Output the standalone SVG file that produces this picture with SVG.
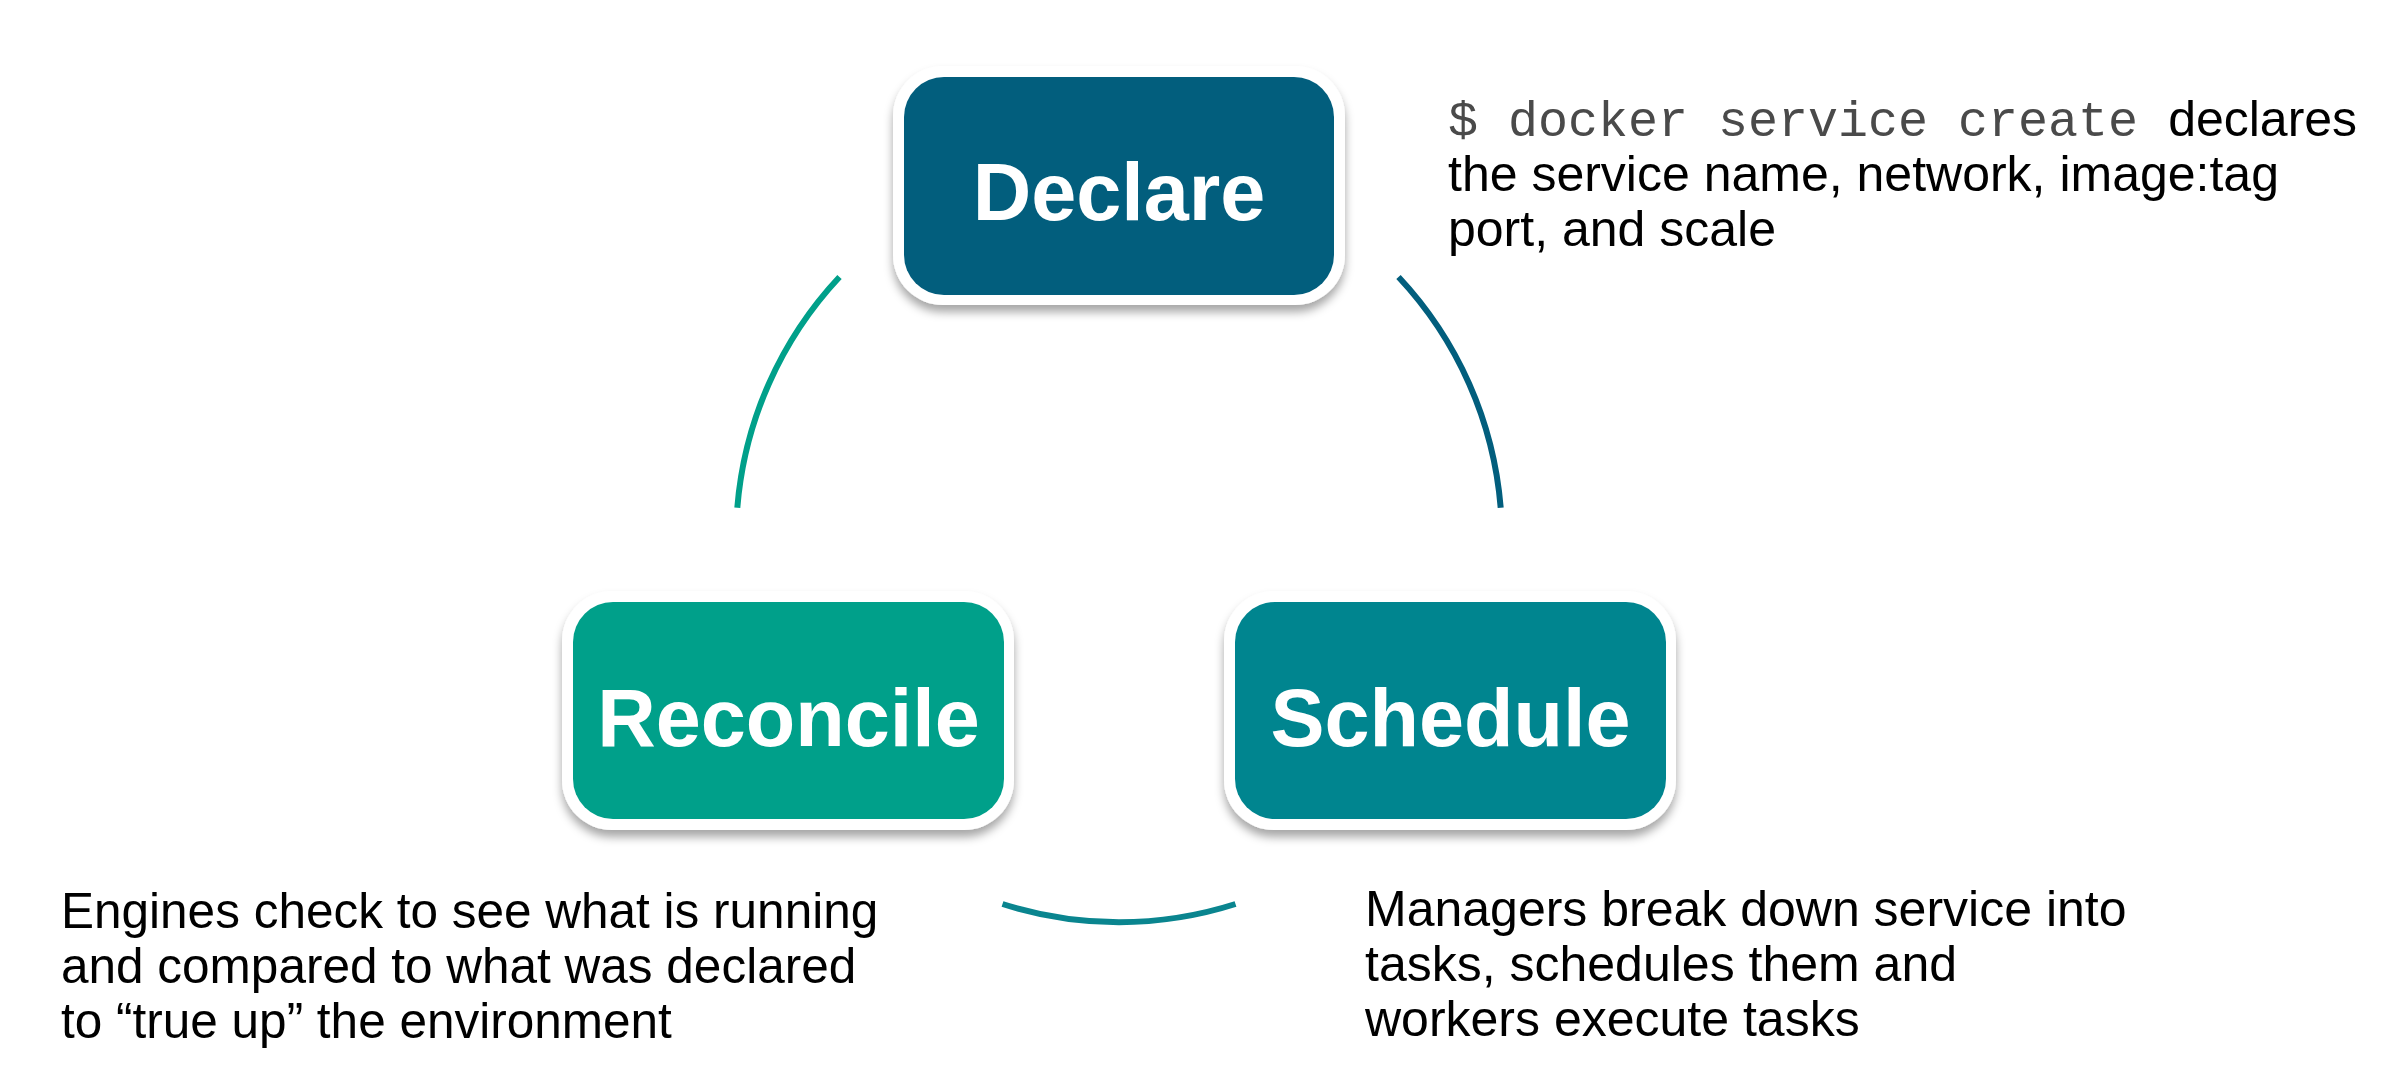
<svg xmlns="http://www.w3.org/2000/svg" width="2382" height="1066" viewBox="0 0 2382 1066">
  <defs>
    <filter id="shadow" x="-10%" y="-10%" width="120%" height="130%">
      <feDropShadow dx="0" dy="7" stdDeviation="5" flood-color="#000" flood-opacity="0.35"/>
    </filter>
  </defs>
  <style>
    .frame { fill: #ffffff; filter: url(#shadow); }
    .label { font-family: "Liberation Sans", Arial, sans-serif; font-weight: bold; font-size: 81px; fill: #ffffff; text-anchor: middle; }
    .body { font-family: "Liberation Sans", Arial, sans-serif; font-size: 50px; fill: #000000; }
    .mono { font-family: "Liberation Mono", "Courier New", monospace; font-size: 50px; fill: #4a4a4a; }
    .arc { fill: none; stroke-width: 6; }
  </style>
  <rect width="2382" height="1066" fill="#ffffff"/>

  <g id="connectors">
    <path class="arc" stroke="#00A08A" d="M 839.5 277 A 383 383 0 0 0 737.3 507.7"/>
    <path class="arc" stroke="#025E7D" d="M 1398.5 277 A 383 383 0 0 1 1500.7 507.7"/>
    <path class="arc" stroke="#0A858F" d="M 1002.5 904 A 383 383 0 0 0 1235.5 904"/>
  </g>

  <g id="declare">
    <rect class="frame" x="893" y="66" width="452" height="239" rx="50"/>
    <rect x="904" y="77" width="430" height="218" rx="40" fill="#025E7D"/>
    <text class="label" x="1119" y="220">Declare</text>
  </g>

  <g id="reconcile">
    <rect class="frame" x="562" y="591" width="452" height="239" rx="50"/>
    <rect x="573" y="602" width="431" height="217" rx="40" fill="#00A08A"/>
    <text class="label" x="788.5" y="746">Reconcile</text>
  </g>

  <g id="schedule">
    <rect class="frame" x="1224" y="591" width="452" height="239" rx="50"/>
    <rect x="1235" y="602" width="431" height="217" rx="40" fill="#00858F"/>
    <text class="label" x="1450.5" y="746">Schedule</text>
  </g>

  <g id="declare-note">
    <text x="1448" y="136" xml:space="preserve"><tspan class="mono">$ docker service create </tspan><tspan class="body">declares</tspan></text>
    <text class="body" x="1448" y="191">the service name, network, image:tag</text>
    <text class="body" x="1448" y="246">port, and scale</text>
  </g>

  <g id="reconcile-note">
    <text class="body" x="61" y="928" style="font-size:49.5px">Engines check to see what is running</text>
    <text class="body" x="61" y="983" style="font-size:49.5px">and compared to what was declared</text>
    <text class="body" x="61" y="1038" style="font-size:49.5px">to “true up” the environment</text>
  </g>

  <g id="schedule-note">
    <text class="body" x="1365" y="926">Managers break down service into</text>
    <text class="body" x="1365" y="981">tasks, schedules them and</text>
    <text class="body" x="1365" y="1036">workers execute tasks</text>
  </g>
</svg>
